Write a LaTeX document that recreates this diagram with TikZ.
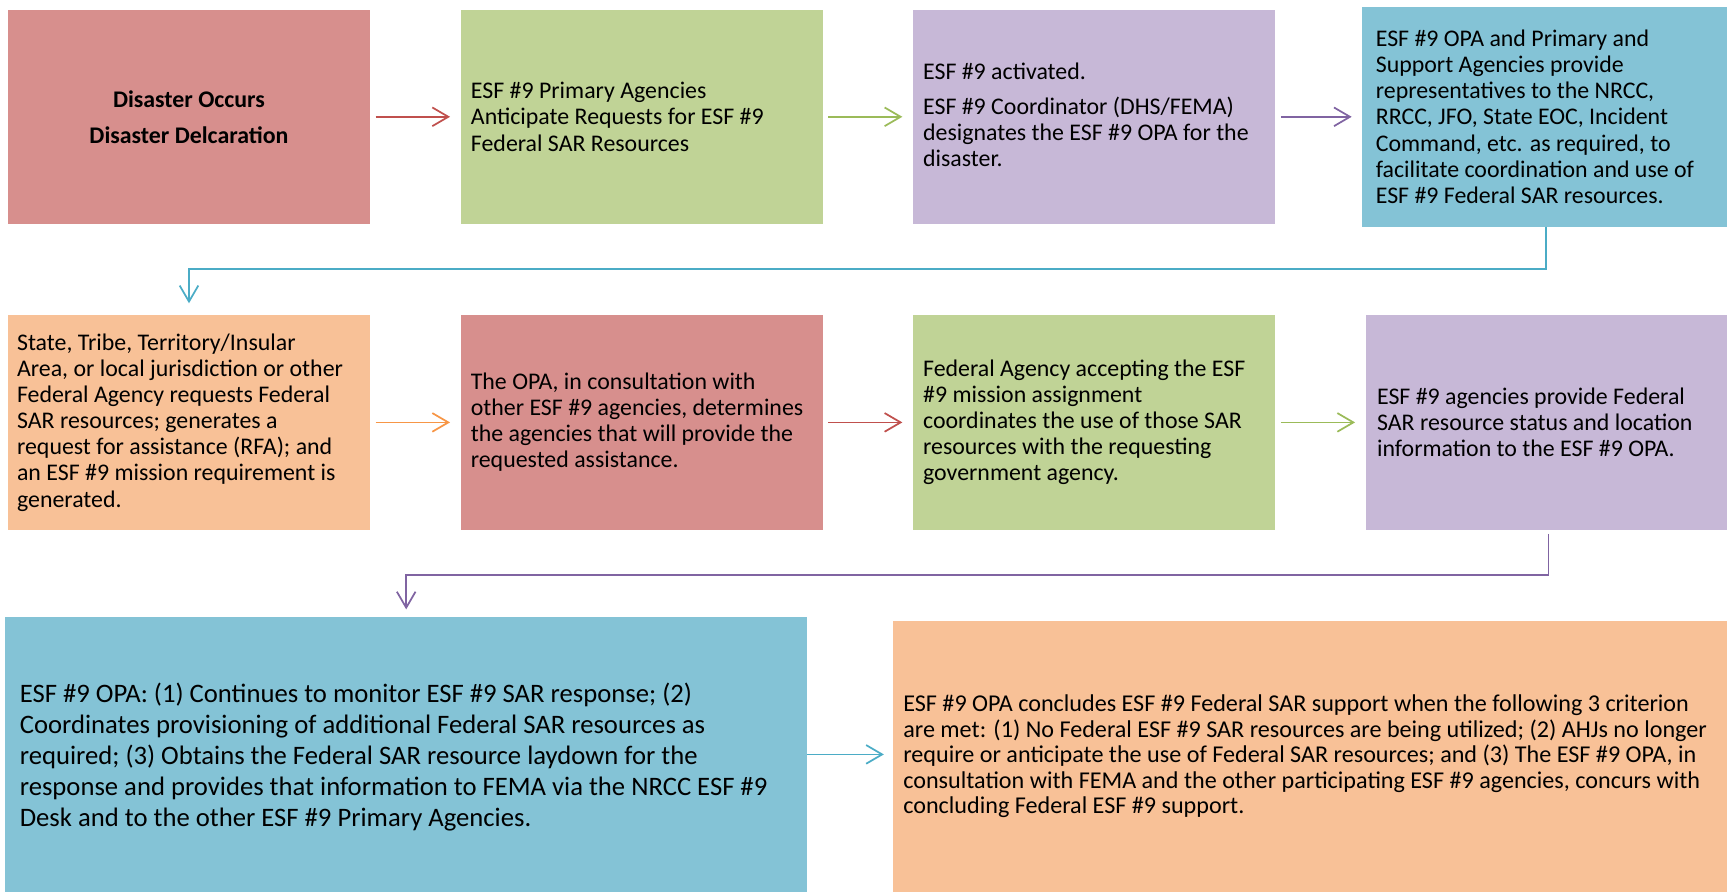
\documentclass[tikz,border=0pt]{standalone}
\usepackage{fontspec}
\setmainfont{Carlito}
\usetikzlibrary{arrows.meta}
\definecolor{bred}{HTML}{D78F8D}
\definecolor{bgreen}{HTML}{C0D396}
\definecolor{bpurple}{HTML}{C7B8D7}
\definecolor{bblue}{HTML}{84C3D6}
\definecolor{borange}{HTML}{F8C197}
\definecolor{lred}{HTML}{C0504D}
\definecolor{lgreen}{HTML}{9BBB59}
\definecolor{lpurple}{HTML}{8064A2}
\definecolor{lblue}{HTML}{4BACC6}
\definecolor{lorange}{HTML}{F79646}
\begin{document}
\begin{tikzpicture}[x=0.75pt,y=-0.75pt,
  rowbox/.style={inner sep=0pt, outer sep=0pt, minimum width=271.5pt, minimum height=160.3pt},
  rowtxt/.style={anchor=west, inner sep=0pt, align=left, font=\fontsize{17.9}{19.6}\selectfont},
  conn/.style={line width=1.3pt, -{Straight Barb[length=12pt,width=14pt,line width=1.3pt]}},
  rowarrow/.style={conn, shorten <=4.3pt, shorten >=8pt}]
\useasboundingbox (0,0) rectangle (1727,892);
% row 1
\node[rowbox, fill=bred] (b1) at (189,116.8) {};
\node[rowbox, fill=bgreen] (b2) at (641.7,116.8) {};
\node[rowbox, fill=bpurple] (b3) at (1094,116.8) {};
\node[rowbox, fill=bblue, minimum width=273.5pt, minimum height=165pt] (b4) at (1544.7,116.7) {};
% row 2
\node[rowbox, fill=borange, minimum height=161.1pt] (b5) at (189,422.4) {};
\node[rowbox, fill=bred, minimum height=161.1pt] (b6) at (641.7,422.4) {};
\node[rowbox, fill=bgreen, minimum height=161.1pt] (b7) at (1094,422.4) {};
\node[rowbox, fill=bpurple, minimum height=161.1pt, minimum width=271pt] (b8) at (1546.4,422.4) {};
% row 3
\node[rowbox, fill=bblue, minimum width=601.4pt, minimum height=206.5pt] (b9) at (406.2,754.4) {};
\node[rowbox, fill=borange, minimum width=625.5pt, minimum height=203.1pt] (b10) at (1310.2,756.6) {};
% texts
\node[inner sep=0pt, align=center, font=\fontsize{17.9}{19.6}\selectfont\bfseries] (t1) at (b1.center) {Disaster Occurs\\[7.5pt]Disaster Delcaration};
\node[rowtxt] (t2) at ([xshift=7.5pt]b2.west) {ESF \#9 Primary Agencies\\Anticipate Requests for ESF \#9\\Federal SAR Resources};
\node[rowtxt] (t3) at ([xshift=7.4pt,yshift=1.5pt]b3.west) {ESF \#9 activated.\\[6.3pt]ESF \#9 Coordinator (DHS/FEMA)\\designates the ESF \#9 OPA for the\\disaster.};
\node[rowtxt] (t4) at ([xshift=9.9pt]b4.west) {ESF \#9 OPA and Primary and\\Support Agencies provide\\representatives to the NRCC,\\RRCC, JFO, State EOC, Incident\\Command, etc. as required, to\\facilitate coordination and use of\\ESF \#9 Federal SAR resources.};
\node[rowtxt] (t5) at ([xshift=6.6pt]b5.west) {State, Tribe, Territory/Insular\\Area, or local jurisdiction or other\\Federal Agency requests Federal\\SAR resources; generates a\\request for assistance (RFA); and\\an ESF \#9 mission requirement is\\generated.};
\node[rowtxt] (t6) at ([xshift=7.4pt]b6.west) {The OPA, in consultation with\\other ESF \#9 agencies, determines\\the agencies that will provide the\\requested assistance.};
\node[rowtxt] (t7) at ([xshift=7.4pt]b7.west) {Federal Agency accepting the ESF\\\#9 mission assignment\\coordinates the use of those SAR\\resources with the requesting\\government agency.};
\node[rowtxt] (t8) at ([xshift=8.3pt]b8.west) {ESF \#9 agencies provide Federal\\SAR resource status and location\\information to the ESF \#9 OPA.};
\node[rowtxt, font=\fontsize{20}{23.4}\selectfont] (t9) at ([xshift=10.7pt,yshift=-2pt]b9.west) {ESF \#9 OPA: (1) Continues to monitor ESF \#9 SAR response; (2)\\Coordinates provisioning of additional Federal SAR resources as\\required; (3) Obtains the Federal SAR resource laydown for the\\response and provides that information to FEMA via the NRCC ESF \#9\\Desk and to the other ESF \#9 Primary Agencies.};
\node[rowtxt, font=\fontsize{18.1}{19.1}\selectfont] (t10) at ([xshift=7.4pt]b10.west) {ESF \#9 OPA concludes ESF \#9 Federal SAR support when the following 3 criterion\\are met: (1) No Federal ESF \#9 SAR resources are being utilized; (2) AHJs no longer\\require or anticipate the use of Federal SAR resources; and (3) The ESF \#9 OPA, in\\consultation with FEMA and the other participating ESF \#9 agencies, concurs with\\concluding Federal ESF \#9 support.};
% connectors
\draw[rowarrow, lred] (b1.east) -- (b2.west);
\draw[rowarrow, lgreen] (b2.east) -- (b3.west);
\draw[rowarrow, lpurple] (b3.east) -- (b3.east -| b4.west);
\draw[rowarrow, lorange] (b5.east) -- (b6.west);
\draw[rowarrow, lred] (b6.east) -- (b7.west);
\draw[rowarrow, lgreen] (b7.east) -- (b8.west);
\coordinate (k1) at (1546,269.3);
\coordinate (k2) at (189,269.3);
\draw[conn, lblue, shorten >=8.8pt] (b4.south -| k1) -- (k1) -- (k2) -- (b5.north);
\coordinate (k3) at (1548.6,575);
\coordinate (k4) at (406.2,575);
\draw[conn, lpurple, shorten <=3pt, shorten >=5.5pt] (b8.south -| k3) -- (k3) -- (k4) -- (b9.north);
\draw[conn, lblue, shorten >=7pt] (b9.east) -- (b9.east -| b10.west);
\end{tikzpicture}
\end{document}
